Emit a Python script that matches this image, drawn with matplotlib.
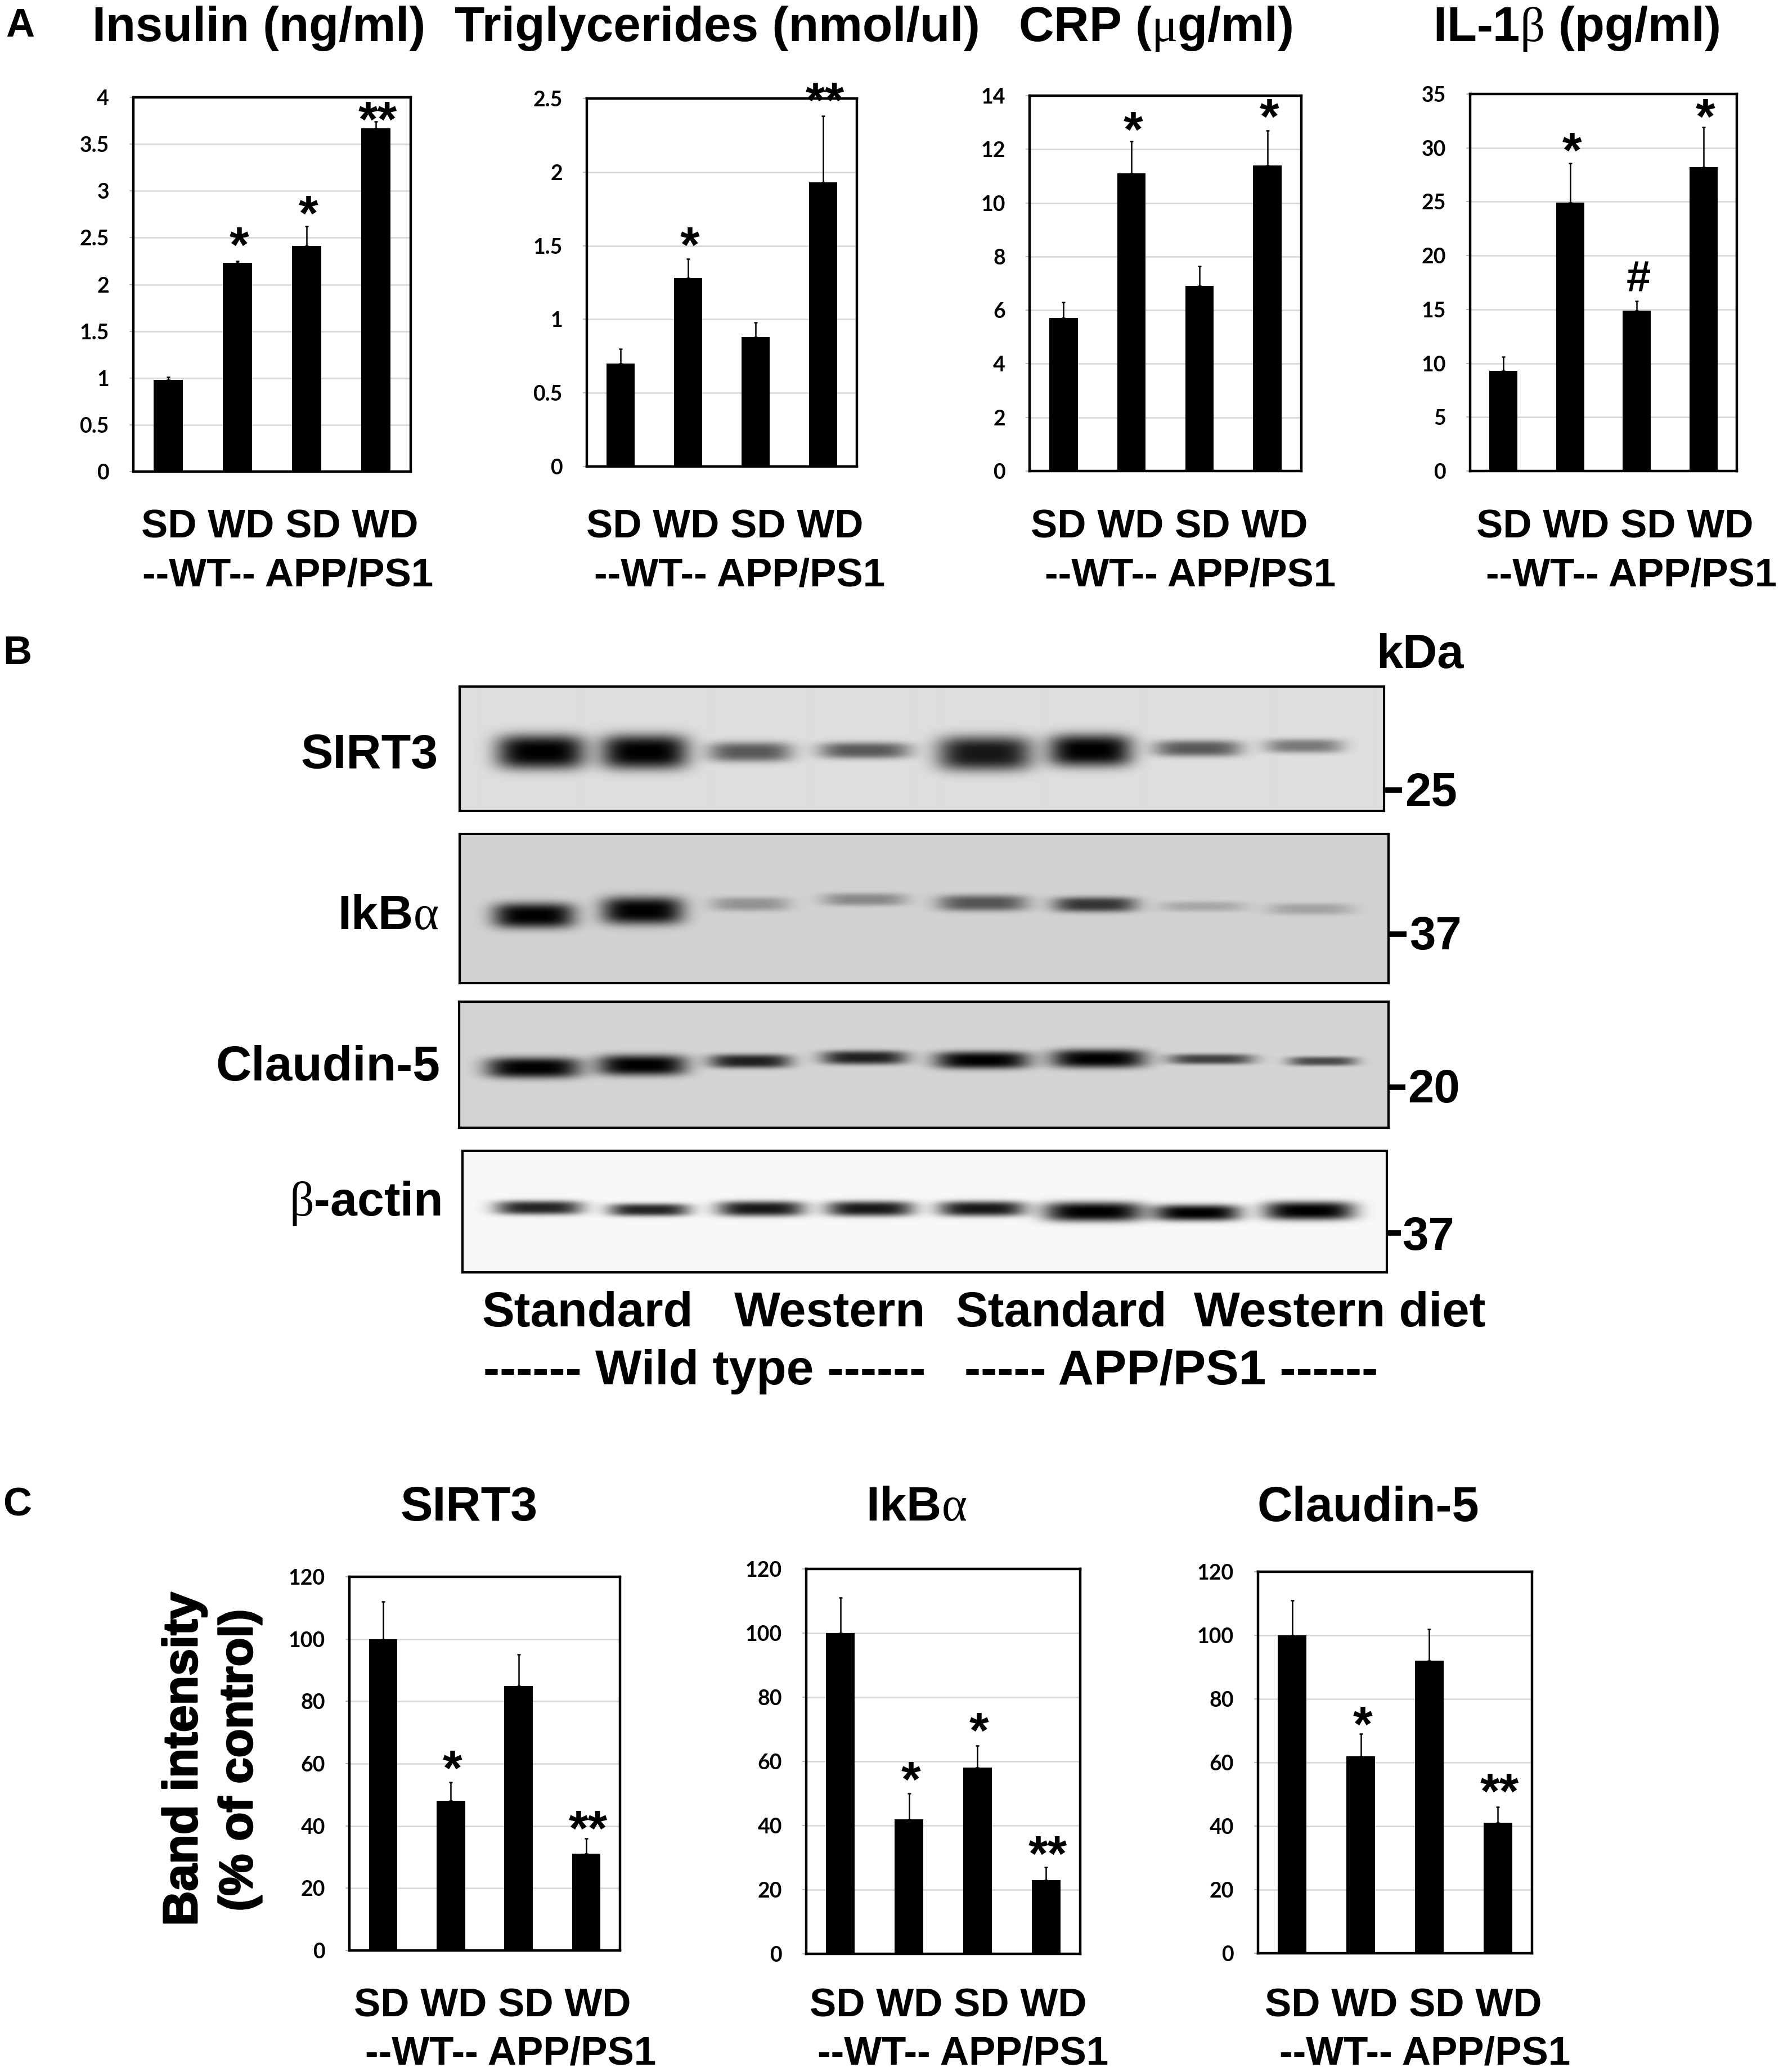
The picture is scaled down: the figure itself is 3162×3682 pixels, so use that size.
import numpy as np
import matplotlib
matplotlib.use("Agg")
import matplotlib.pyplot as plt
import matplotlib.patheffects as pe

W, H = 3162, 3682
DPI = 100

plt.rcParams["font.family"] = ["Liberation Sans", "DejaVu Sans"]
plt.rcParams["font.weight"] = "bold"
plt.rcParams["mathtext.fontset"] = "custom"
plt.rcParams["mathtext.rm"] = "Liberation Serif:normal"
plt.rcParams["mathtext.default"] = "regular"

# panel A + C bar values, and the tops of the error bars
insulin = [0.98, 2.23, 2.41, 3.67]
insulin_top = [1.01, 2.25, 2.62, 3.74]
insulin_ticks = [0, 0.5, 1, 1.5, 2, 2.5, 3, 3.5, 4]
insulin_marks = [(1, 2.49, "*"), (2, 2.83, "*"), (3, 3.83, "**")]

trig = [0.70, 1.28, 0.88, 1.93]
trig_top = [0.80, 1.41, 0.98, 2.38]
trig_ticks = [0, 0.5, 1, 1.5, 2, 2.5]
trig_marks = [(1, 1.55, "*"), (3, 2.53, "**")]

crp = [5.7, 11.1, 6.9, 11.4]
crp_top = [6.3, 12.3, 7.65, 12.7]
crp_ticks = [0, 2, 4, 6, 8, 10, 12, 14]
crp_marks = [(1, 12.97, "*"), (3, 13.45, "*")]

il1b = [9.3, 24.9, 14.9, 28.2]
il1b_top = [10.6, 28.6, 15.8, 31.9]
il1b_ticks = [0, 5, 10, 15, 20, 25, 30, 35]
il1b_marks = [(1, 30.35, "*"), (2, 18.1, "#"), (3, 33.5, "*")]

sirt3 = [100, 48, 85, 31]
sirt3_top = [112, 54, 95, 36]
ikb = [100, 42, 58, 23]
ikb_top = [111, 50, 65, 27]
claudin = [100, 62, 92, 41]
claudin_top = [111, 69, 102, 46]
band_ticks = [0, 20, 40, 60, 80, 100, 120]
sirt3_marks = [(1, 60.5, "*"), (3, 41.2, "**")]
ikb_marks = [(1, 56.3, "*"), (2, 71.6, "*"), (3, 33.2, "**")]
claudin_marks = [(1, 74, "*"), (3, 53, "**")]

# blot lanes: centre, band row, darkness, half width, half height
sirt3_x = [.088, .2, .314, .438, .568, .682, .798, .913]
sirt3_y = [.526, .526, .526, .514, .538, .514, .498, .478]
sirt3_dark = [1, 1, .6, .6, .9, 1, .6, .45]
sirt3_hw = [.048, .047, .045, .049, .051, .045, .047, .042]
sirt3_hh = [.121, .121, .069, .057, .121, .113, .057, .049]

ikb_x = [.08, .197, .313, .436, .563, .684, .80, .916]
ikb_y = [.547, .514, .470, .439, .463, .473, .486, .503]
ikb_dark = [1, 1, .3, .35, .6, .75, .2, .22]
ikb_hw = [.044, .044, .042, .045, .048, .045, .046, .046]
ikb_hh = [.074, .081, .041, .037, .047, .044, .030, .034]

claudin_x = [.08, .197, .313, .436, .563, .688, .809, .929]
claudin_y = [.524, .504, .472, .444, .464, .452, .456, .472]
claudin_dark = [1, 1, .85, .85, 1, 1, .7, .65]
claudin_hw = [.051, .048, .044, .046, .051, .051, .046, .037]
claudin_hh = [.072, .072, .048, .048, .060, .064, .036, .032]

actin_x = [.083, .202, .323, .441, .562, .683, .795, .916]
actin_y = [.471, .488, .479, .479, .479, .504, .512, .496]
actin_dark = [.85, .85, .9, .9, .9, 1, 1, 1]
actin_hw = [.047, .044, .047, .047, .047, .054, .047, .049]
actin_hh = [.050, .045, .054, .054, .054, .070, .058, .066]

diet_line = "SD WD SD WD"
geno_line = "--WT-- APP/PS1"

fig = plt.figure(figsize=(W / DPI, H / DPI), dpi=DPI, facecolor="white")


def label(x, y, s, size=51, **kw):
    return fig.text(x / W, 1 - y / H, s, fontsize=size, fontweight="bold",
                    ha=kw.pop("ha", "left"), va="baseline", **kw)


def new_ax(left, top, right, bottom):
    return fig.add_axes([left / W, 1 - bottom / H, (right - left) / W, (bottom - top) / H])


def bar_chart(box, vals, tops, ticks, marks):
    ax = new_ax(*box)
    pos = np.arange(4)
    err = np.array(tops) - np.array(vals)
    ax.yaxis.grid(True, color="#d9d9d9", lw=2)
    ax.set_axisbelow(True)
    ax.bar(pos, vals, width=0.42, color="black", zorder=3)
    ax.errorbar(pos, vals, yerr=[np.zeros(4), err], fmt="none", ecolor="black",
                elinewidth=1.8, capsize=2, capthick=1.8, zorder=3)
    ax.set_xlim(-0.5, 3.5)
    ax.set_ylim(0, ticks[-1])
    ax.set_xticks([])
    ax.set_yticks(ticks)
    ax.set_yticklabels([f"{t:g}" for t in ticks], family="Lato", fontweight="bold", fontsize=27)
    ax.tick_params(axis="y", length=5, width=1.5, color="#bbbbbb", pad=26)
    for s in ax.spines.values():
        s.set_linewidth(3.2)
    for i, y, s in marks:
        size, off = (56, -28) if s == "#" else (64, -41)
        ax.annotate(s, (i, y), xytext=(3, off), textcoords="offset pixels", ha="center",
                    va="baseline", fontsize=size, fontweight="bold", annotation_clip=False, zorder=5)
    return ax


def blot(box, bg, xs, ys, dark, hw, hh):
    ax = new_ax(*box)
    w, h = box[2] - box[0], box[3] - box[1]
    gx, gy = np.meshgrid((np.arange(w) + 0.5) / w, (np.arange(h) + 0.5) / h)
    img = np.zeros((h, w))
    for x, y, d, a, b in zip(xs, ys, dark, hw, hh):
        img += d * np.exp(-((gx - x) / a) ** 4) * np.exp(-(np.abs(gy - y) / (1.15 * b)) ** 3)
    img = bg * (1 - np.clip(img, 0, 1))
    ax.imshow(img, cmap="gray", vmin=0, vmax=1, aspect="auto", interpolation="bilinear")
    ax.set_xticks([])
    ax.set_yticks([])
    for s in ax.spines.values():
        s.set_linewidth(3)
    return ax


def size_tick(x0, x1, y):
    fig.add_artist(plt.Line2D([x0 / W, x1 / W], [1 - y / H] * 2, color="black", lw=7,
                              solid_capstyle="butt"))


# panel A
bar_chart((237, 173, 730, 838), insulin, insulin_top, insulin_ticks, insulin_marks)
bar_chart((1043, 175, 1523, 829), trig, trig_top, trig_ticks, trig_marks)
bar_chart((1830, 170, 2313, 837), crp, crp_top, crp_ticks, crp_marks)
bar_chart((2613, 167, 3087, 837), il1b, il1b_top, il1b_ticks, il1b_marks)

label(10, 65, "A", 51)
label(164, 73, "Insulin (ng/ml)", 62.5)
label(808, 73, "Triglycerides (nmol/ul)", 63)
label(1810, 73, r"CRP ($\mathrm{\mu}$g/ml)", 62.5)
label(2547, 73, r"IL-1$\mathrm{\beta}$ (pg/ml)", 62.5)

for x1, x2 in [(251, 253), (1042, 1056), (1832, 1857), (2624, 2641)]:
    label(x1, 955, diet_line)
    label(x2, 1042, geno_line)

# panel B
blot((817, 1220, 2460, 1441), 0.87, sirt3_x, sirt3_y, sirt3_dark, sirt3_hw, sirt3_hh)
blot((817, 1482, 2468, 1747), 0.82, ikb_x, ikb_y, ikb_dark, ikb_hw, ikb_hh)
blot((816, 1780, 2468, 2004), 0.83, claudin_x, claudin_y, claudin_dark, claudin_hw, claudin_hh)
blot((822, 2045, 2465, 2261), 0.97, actin_x, actin_y, actin_dark, actin_hw, actin_hh)

label(5, 1180, "B", 51)
label(2446, 1187, "kDa", 61)
label(779, 1365, "SIRT3", 62, ha="right")
label(779, 1651, r"IkB$\mathrm{\alpha}$", 62, ha="right")
label(782, 1920, "Claudin-5", 63, ha="right")
label(784, 2160, r"$\mathrm{\beta}$-actin", 62, ha="right")

size_tick(2462, 2492, 1404)
size_tick(2470, 2500, 1660)
size_tick(2470, 2498, 1932)
size_tick(2467, 2490, 2191)
label(2497, 1432, "25", 60)
label(2505, 1687, "37", 60)
label(2502, 1959, "20", 60)
label(2492, 2221, "37", 60)

for x, s in [(857, "Standard"), (1305, "Western"), (1699, "Standard"), (2122, "Western diet")]:
    label(x, 2357, s, 62.5)
label(859, 2460, "------ Wild type ------", 63)
label(1714, 2460, "----- APP/PS1 ------", 63)

# panel C
bar_chart((621, 2802, 1102, 3466), sirt3, sirt3_top, band_ticks, sirt3_marks)
bar_chart((1433, 2788, 1920, 3472), ikb, ikb_top, band_ticks, ikb_marks)
bar_chart((2236, 2793, 2723, 3471), claudin, claudin_top, band_ticks, claudin_marks)

label(5, 2693, "C", 51)
label(712, 2702, "SIRT3", 62)
label(1539, 2702, r"IkB$\mathrm{\alpha}$", 62)
label(2235, 2703, "Claudin-5", 62.5)

stroke = [pe.withStroke(linewidth=2, foreground="black")]
label(350, 3126, "Band intensity", 62, ha="center", rotation=90, rotation_mode="anchor", path_effects=stroke)
label(448, 3128, "(% of control)", 60, ha="center", rotation=90, rotation_mode="anchor", path_effects=stroke)

for x1, x2 in [(629, 649), (1439, 1453), (2248, 2274)]:
    label(x1, 3583, diet_line)
    label(x2, 3668, geno_line)

fig.savefig("out.png", dpi=DPI, facecolor="white")
